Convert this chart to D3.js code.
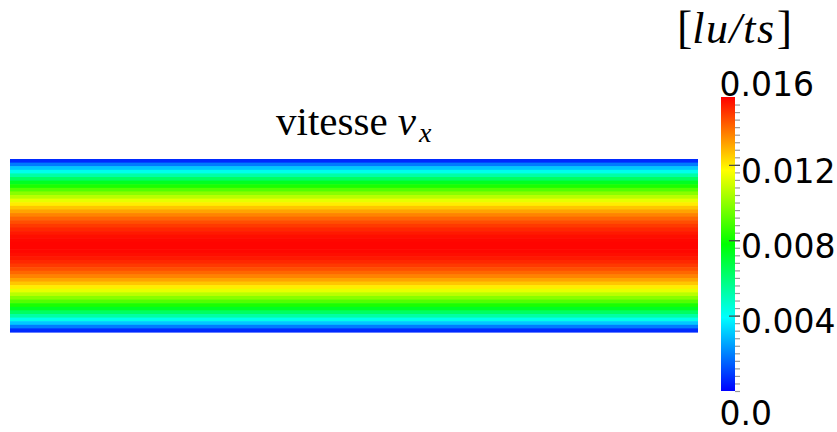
<!DOCTYPE html>
<html>
<head>
<meta charset="utf-8">
<script src="https://cdn.jsdelivr.net/npm/d3@7"></script>
<style>
  html, body { margin: 0; padding: 0; background: #fff; }
  svg { display: block; }
</style>
</head>
<body>
<div id="chart"></div>
<script>
// Velocity field v_x across the channel height (one value per lattice row, top to bottom)
const rowVelocity = [
    0.000641, 0.001883, 0.003071, 0.004205, 0.005285, 0.006310, 0.007282, 0.008200,
    0.009064, 0.009874, 0.010630, 0.011332, 0.011980, 0.012574, 0.013114, 0.013600,
    0.014031, 0.014409, 0.014733, 0.015003, 0.015219, 0.015381, 0.015489, 0.015543,
    0.015543, 0.015489, 0.015381, 0.015219, 0.015003, 0.014733, 0.014409, 0.014031,
    0.013600, 0.013114, 0.012574, 0.011980, 0.011332, 0.010630, 0.009874, 0.009064,
    0.008200, 0.007282, 0.006310, 0.005285, 0.004205, 0.003071, 0.001883, 0.000641
];

// Colour bar range and labels
const rangeMin = 0.0;
const rangeMax = 0.0156;
const rangeLabels = ['0.016', '0.0'];
const majorTicks = [0.004, 0.008, 0.012];
const majorLabels = ['0.004', '0.008', '0.012'];
const minorStep = 0.0004;

const W = 837, H = 432;

// Layout
const field = { x0: 10, x1: 698, y0: 159, y1: 332 };
const bar = { x: 721, w: 14, top: 97, bottom: 391 };

const svg = d3.select('#chart')
    .append('svg')
    .attr('width', W)
    .attr('height', H);

// HSV rainbow: blue (240deg) at min -> red (0deg) at max
const hue = d3.scaleLinear().domain([rangeMin, rangeMax]).range([240, 0]).clamp(true);
const color = v => d3.hsl(hue(v), 1, 0.5).formatHex();

// Field rows
const yRow = d3.scaleBand()
    .domain(d3.range(rowVelocity.length))
    .range([field.y0, field.y1]);

svg.append('g')
    .selectAll('rect')
    .data(rowVelocity)
    .enter()
    .append('rect')
    .attr('x', field.x0)
    .attr('width', field.x1 - field.x0)
    .attr('y', (d, i) => yRow(i))
    .attr('height', yRow.bandwidth() + 0.6)
    .attr('fill', d => color(d));

// Title
const title = svg.append('text')
    .attr('x', 276)
    .attr('y', 135)
    .style('font-family', '"Liberation Serif", "Times New Roman", serif')
    .style('font-size', '41px')
    .attr('fill', '#000');
title.append('tspan').text('vitesse ');
title.append('tspan').style('font-style', 'italic').text('v');
title.append('tspan')
    .style('font-style', 'italic')
    .style('font-size', '28px')
    .attr('dy', 7)
    .attr('dx', 3)
    .text('x');

// Unit label
const unit = svg.append('text')
    .attr('x', 677)
    .attr('y', 43)
    .style('font-family', '"Liberation Serif", "Times New Roman", serif')
    .style('font-size', '44px')
    .attr('fill', '#000');
unit.append('tspan').style('font-size', '46px').text('[');
unit.append('tspan')
    .style('font-style', 'italic')
    .style('letter-spacing', '1.5px')
    .text('lu/ts');
unit.append('tspan').style('font-size', '46px').attr('dx', 1).text(']');

// Colour bar
const yBar = d3.scaleLinear().domain([rangeMin, rangeMax]).range([bar.bottom, bar.top]);

const defs = svg.append('defs');
const grad = defs.append('linearGradient')
    .attr('id', 'cbar')
    .attr('x1', 0).attr('y1', 1)
    .attr('x2', 0).attr('y2', 0);
d3.range(0, 1.0001, 0.05).forEach(t => {
    grad.append('stop')
        .attr('offset', t)
        .attr('stop-color', color(rangeMin + t * (rangeMax - rangeMin)));
});

svg.append('rect')
    .attr('x', bar.x)
    .attr('y', yBar(rangeMax))
    .attr('width', bar.w)
    .attr('height', yBar(rangeMin) - yBar(rangeMax))
    .attr('fill', 'url(#cbar)');

// Minor ticks
const minorTicks = d3.range(rangeMin, rangeMax, minorStep);
const minorAxis = d3.axisRight(yBar)
    .tickValues(minorTicks)
    .tickSize(5)
    .tickFormat('');
const gMinor = svg.append('g')
    .attr('transform', `translate(${bar.x + bar.w},0)`)
    .call(minorAxis);
gMinor.select('.domain').remove();
gMinor.selectAll('.tick line').attr('stroke', '#999').attr('stroke-width', 1.2);

// Major ticks with labels
const majorAxis = d3.axisRight(yBar)
    .tickValues(majorTicks)
    .tickSize(11)
    .tickPadding(1)
    .tickFormat((d, i) => majorLabels[i]);
const gMajor = svg.append('g')
    .attr('transform', `translate(${bar.x + 8},0)`)
    .call(majorAxis);
gMajor.select('.domain').remove();
gMajor.selectAll('.tick line').attr('stroke', '#444').attr('stroke-width', 1.2);
gMajor.selectAll('.tick text')
    .attr('dy', '0.52em')
    .attr('fill', '#000')
    .style('font-family', '"DejaVu Sans", sans-serif')
    .style('font-size', '33px');

// Range labels at the ends of the bar
svg.append('text')
    .attr('x', bar.x - 1.5)
    .attr('y', yBar(rangeMax) - 1)
    .attr('fill', '#000')
    .style('font-family', '"DejaVu Sans", sans-serif')
    .style('font-size', '33px')
    .text(rangeLabels[0]);

svg.append('text')
    .attr('x', bar.x - 1.5)
    .attr('y', yBar(rangeMin) + 34)
    .attr('fill', '#000')
    .style('font-family', '"DejaVu Sans", sans-serif')
    .style('font-size', '33px')
    .text(rangeLabels[1]);
</script>
</body>
</html>
